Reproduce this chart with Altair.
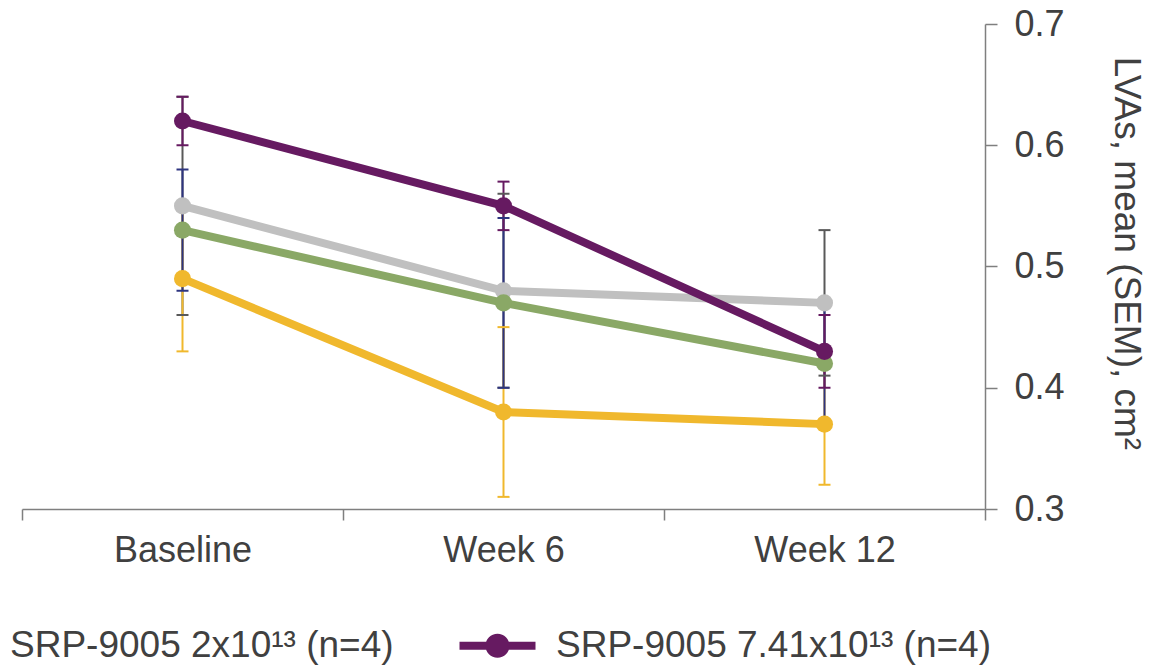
import altair as alt
import pandas as pd

# ---- data ----
timepoints = ["Baseline", "Week 6", "Week 12"]

series_names = [
    "Series A",                      # gray (legend entry outside the crop)
    "Series B",                      # green (legend entry outside the crop)
    "SRP-9005 2x10¹³ (n=4)",          # yellow
    "SRP-9005 7.41x10¹³ (n=4)",       # purple
]
line_colors = ["#c0c0c0", "#8aa866", "#f0b82d", "#661a61"]
err_colors = ["#595959", "#2e3580", "#f0b82d", "#661a61"]

gray_mean = [0.55, 0.48, 0.47]
gray_sem = [0.09, 0.08, 0.06]
green_mean = [0.53, 0.47, 0.42]
green_sem = [0.05, 0.07, 0.05]
yellow_mean = [0.49, 0.38, 0.37]
yellow_sem = [0.06, 0.07, 0.05]
purple_mean = [0.62, 0.55, 0.43]
purple_sem = [0.02, 0.02, 0.03]

y_ticks = [0.3, 0.4, 0.5, 0.6, 0.7]
legend_values = [series_names[2], series_names[3]]

means = [gray_mean, green_mean, yellow_mean, purple_mean]
sems = [gray_sem, green_sem, yellow_sem, purple_sem]

rows = []
for i, name in enumerate(series_names):
    for j, t in enumerate(timepoints):
        rows.append({
            "series": name,
            "time": t,
            "mean": means[i][j],
            "lo": round(means[i][j] - sems[i][j], 3),
            "hi": round(means[i][j] + sems[i][j], 3),
            "ecolor": err_colors[i],
            "lcolor": line_colors[i],
            "k": i,
        })
df = pd.DataFrame(rows)

# error bar drawing order: gray, yellow, green (navy), purple
err_order = {0: 0, 2: 1, 1: 2, 3: 3}
df_err = df.assign(eo=df["k"].map(err_order)).sort_values(["eo", "time"]).reset_index(drop=True)
caps = pd.concat([
    df_err.assign(cap=df_err["lo"]),
    df_err.assign(cap=df_err["hi"]),
]).sort_values("eo").reset_index(drop=True)

FONT = "Liberation Sans"
TEXT = "#404040"

x_enc = alt.X(
    "time:N",
    sort=timepoints,
    scale=alt.Scale(type="band", paddingInner=0, paddingOuter=0),
    axis=alt.Axis(
        title=None, orient="bottom", tickBand="extent", tickSize=11,
        labelFontSize=36, labelColor=TEXT, labelPadding=30, labelAngle=0,
        labelAlign="center",
        domainColor="#7f7f7f", tickColor="#7f7f7f", domainWidth=1.5, tickWidth=1.5,
        grid=False,
    ),
)
x_plain = alt.X("time:N", sort=timepoints)
y_scale = alt.Scale(domain=[0.3, 0.7], zero=False, nice=False)
y_enc = alt.Y(
    "mean:Q",
    scale=y_scale,
    axis=alt.Axis(
        title="LVAs, mean (SEM), cm²", orient="right", values=y_ticks, format=".1f",
        tickSize=12, labelPadding=17, labelFontSize=36, labelColor=TEXT,
        titleFontSize=37, titleColor=TEXT, titleFontWeight="normal", titlePadding=42,
        titleY=229,
        domainColor="#7f7f7f", tickColor="#7f7f7f", domainWidth=1.5, tickWidth=1.5,
        grid=False,
    ),
)

color_scale = alt.Scale(domain=series_names, range=line_colors)

sym_path = ("M-3.8,-0.4L3.8,-0.4L3.8,0.4L-3.8,0.4Z"
            "M-1.2,0A1.2,1.2 0 1,1 1.2,0A1.2,1.2 0 1,1 -1.2,0Z")

base = alt.Chart(df)

rules = alt.Chart(df_err).mark_rule(strokeWidth=2).encode(
    x=x_plain,
    y=alt.Y("lo:Q", scale=y_scale),
    y2="hi:Q",
    color=alt.Color("ecolor:N", scale=None),
    order=alt.Order("eo:Q"),
)
cap_ticks = alt.Chart(caps).mark_tick(size=12, thickness=2, orient="horizontal", opacity=1).encode(
    x=x_plain,
    y=alt.Y("cap:Q", scale=y_scale),
    color=alt.Color("ecolor:N", scale=None),
    order=alt.Order("eo:Q"),
)
lines = base.mark_line(strokeWidth=8).encode(
    x=x_enc,
    y=y_enc,
    color=alt.Color("lcolor:N", scale=None),
    detail="series:N",
)
points = base.mark_circle(size=290, opacity=1).encode(
    x=x_plain,
    y=alt.Y("mean:Q", scale=y_scale),
    color=alt.Color(
        "series:N", scale=color_scale,
        legend=alt.Legend(
            title=None, orient="none", legendX=-117, legendY=603,
            direction="horizontal", columns=2, values=legend_values,
            symbolType=sym_path, symbolSize=400, symbolStrokeWidth=0,
            symbolOffset=28, labelOffset=40, columnPadding=57,
            labelFontSize=37, labelColor=TEXT, labelLimit=1000, labelFont=FONT,
            symbolOpacity=1,
        ),
    ),
    order=alt.Order("k:Q"),
)

chart = alt.layer(rules, cap_ticks, lines, points).properties(
    width=963,
    height=485,
    padding={"left": 22, "top": 24, "right": 185, "bottom": 158},
    autosize=alt.AutoSizeParams(type="none"),
).configure(
    font=FONT,
).configure_view(
    stroke=None,
)

chart.save("out.html", embed_options={"renderer": "svg", "actions": False})
